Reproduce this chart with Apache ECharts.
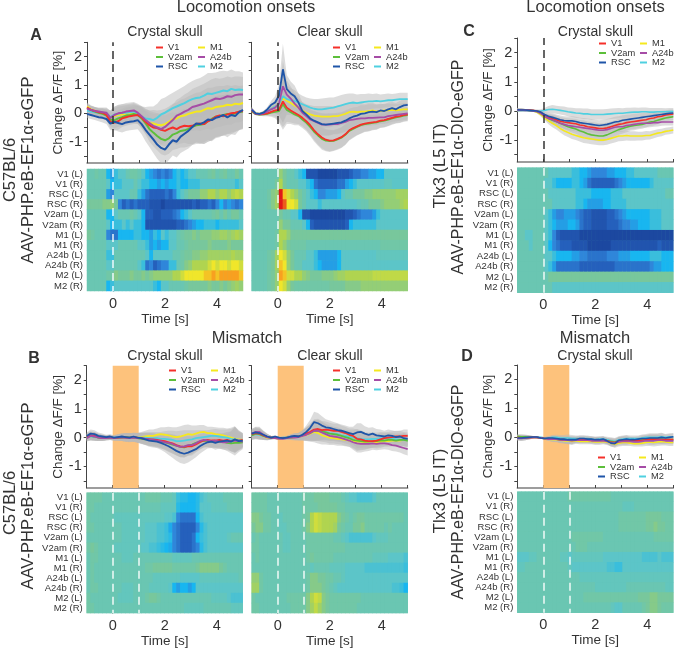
<!DOCTYPE html>
<html><head><meta charset="utf-8">
<style>html,body{margin:0;padding:0;background:#fff}#c{width:675px;height:649px}</style>
<script src="https://cdn.jsdelivr.net/npm/echarts@6/dist/echarts.min.js"></script>
</head><body><div id="c"></div>
<script>
// Time samples: -1 s to 5 s. Trace values are in hundredths of a percent, heat values on a -9..9 colour range.
const times=[-1,-0.85,-0.7,-0.55,-0.4,-0.25,-0.1,0.05,0.2,0.35,0.5,0.65,0.8,0.95,1.1,1.25,1.4,1.55,1.7,1.85,2,2.15,2.3,2.45,2.6,2.75,2.9,3.05,3.2,3.35,3.5,3.65,3.8,3.95,4.1,4.25,4.4,4.55,4.7,4.85,5];
const binLabels=['-1','-.85','-.7','-.55','-.4','-.25','-.1','.05','.2','.35','.5','.65','.8','.95','1.1','1.25','1.4','1.55','1.7','1.85','2','2.15','2.3','2.45','2.6','2.75','2.9','3.05','3.2','3.35','3.5','3.65','3.8','3.95','4.1','4.25','4.4','4.55','4.7','4.85'];
const rowLabels=['V1 (L)','V1 (R)','RSC (L)','RSC (R)','V2am (L)','V2am (R)','M1 (L)','M1 (R)','A24b (L)','A24b (R)','M2 (L)','M2 (R)'];
const areaNames=['M1','M2','V2am','V1','A24b','RSC'];
const areaColors={V1:'#f5302a',V2am:'#5cbf3a',RSC:'#1f55a8',M1:'#f5e81e',A24b:'#a64ca6',M2:'#4fd0e0'};
const heatColors=['#1c48a0','#2560bc','#2f86da','#18b6f0','#5cc5c8','#78c79c','#b0d450','#f0e62a','#f8a020','#e01818'];

const A1_V1=[20,12,8,4,2,-6,-30,-33,-28,-18,-14,-10,-8,-6,-14,-30,-42,-50,-52,-58,-62,-55,-50,-56,-48,-44,-46,-44,-38,-36,-38,-28,-22,-12,-8,-10,-4,0,2,6,8];
const A1_V2am=[18,12,6,2,-2,-8,-22,-25,-18,-14,-8,-6,-2,-6,-18,-35,-55,-68,-80,-90,-95,-88,-75,-70,-62,-60,-55,-48,-42,-40,-38,-28,-20,-12,-10,-6,-2,-6,0,4,6];
const A1_RSC=[-2,-6,-10,-14,-16,-20,-36,-30,-34,-38,-32,-30,-28,-24,-38,-58,-75,-92,-110,-122,-128,-110,-95,-100,-82,-72,-62,-48,-36,-38,-32,-22,-24,-16,-12,-6,-14,-6,-10,4,12];
const A1_M1=[24,14,8,4,0,-4,-14,-10,-6,-4,-2,0,2,-4,-12,-26,-34,-36,-40,-42,-38,-30,-20,-18,-10,-8,-2,2,6,6,12,18,16,22,24,26,30,28,34,32,36];
const A1_A24b=[16,12,8,6,4,2,-16,-6,0,2,6,8,10,2,-10,-24,-34,-44,-50,-56,-48,-36,-24,-8,-2,6,12,22,26,30,34,40,46,52,50,54,60,58,64,66,66];
const A1_M2=[10,6,4,2,2,0,-14,-4,-2,2,2,4,6,-2,-12,-18,-20,-24,-16,-4,2,10,18,24,30,36,44,50,54,56,62,70,68,72,76,80,78,86,82,84,82];
const A1_SEM=[14,14,14,14,16,18,24,28,30,30,30,30,30,32,36,40,44,48,50,54,54,54,54,56,58,60,62,64,66,68,70,72,74,72,72,70,70,68,66,64,62];

const A2_V1=[10,-2,-4,-3,0,5,10,12,42,20,10,2,-6,-16,-28,-42,-60,-74,-85,-93,-96,-95,-90,-84,-74,-60,-52,-46,-40,-36,-34,-32,-30,-26,-24,-20,-16,-12,-10,-6,-4];
const A2_V2am=[8,-3,-5,-4,-2,2,5,8,32,12,4,-4,-10,-22,-33,-48,-65,-78,-90,-96,-98,-97,-92,-86,-76,-62,-55,-48,-42,-38,-36,-34,-32,-28,-26,-22,-18,-14,-12,-8,-6];
const A2_RSC=[12,0,-2,2,14,30,38,62,155,85,70,60,38,8,-4,-18,-26,-32,-38,-40,-38,-36,-34,-32,-26,-18,-12,-8,-2,0,4,6,4,10,8,14,18,14,22,28,30];
const A2_M1=[12,0,-2,2,8,16,24,32,55,44,36,28,20,10,2,-4,-8,-10,-12,-12,-12,-10,-10,-6,-2,4,6,4,6,6,8,10,6,8,10,10,12,10,12,14,14];
const A2_A24b=[14,-1,-3,0,6,14,20,34,95,66,52,34,20,2,-10,-22,-28,-34,-40,-40,-40,-38,-38,-34,-30,-24,-22,-20,-18,-18,-16,-16,-15,-14,-14,-10,-8,-6,-4,-2,0];
const A2_M2=[14,-1,-3,2,8,16,24,32,60,50,46,44,38,32,26,20,16,14,14,16,18,20,24,28,32,36,38,36,38,40,42,42,44,42,44,46,46,48,50,50,50];
const A2_SEM=[8,4,4,6,8,14,22,40,90,50,42,38,32,30,30,32,34,36,38,38,38,36,36,36,36,34,32,30,30,28,28,26,26,24,24,24,22,22,22,22,22];

const C_V1=[4,4,3,3,2,0,-4,-14,-22,-26,-30,-35,-38,-40,-42,-44,-48,-50,-54,-56,-58,-60,-60,-58,-54,-50,-46,-44,-40,-38,-36,-34,-32,-30,-26,-24,-20,-18,-14,-12,-10];
const C_V2am=[4,4,3,2,1,-2,-8,-18,-26,-32,-36,-42,-48,-54,-58,-62,-68,-72,-78,-82,-84,-86,-86,-82,-76,-70,-64,-60,-56,-52,-50,-48,-46,-42,-38,-36,-32,-28,-24,-22,-20];
const C_RSC=[4,3,3,2,1,0,-4,-12,-18,-22,-26,-30,-33,-34,-34,-36,-40,-42,-44,-46,-48,-50,-48,-46,-42,-38,-36,-32,-30,-28,-26,-24,-22,-20,-18,-16,-14,-12,-10,-8,-7];
const C_M1=[3,3,3,2,0,-4,-12,-24,-34,-42,-50,-60,-68,-74,-80,-84,-88,-92,-94,-96,-98,-100,-100,-98,-94,-90,-86,-86,-84,-86,-86,-86,-86,-84,-84,-80,-76,-74,-70,-68,-65];
const C_A24b=[3,3,2,2,0,-2,-8,-18,-26,-30,-36,-42,-46,-50,-52,-54,-56,-58,-60,-62,-64,-66,-66,-64,-60,-56,-54,-54,-50,-48,-46,-44,-42,-42,-42,-40,-40,-38,-38,-38,-38];
const C_M2=[2,2,2,1,0,0,0,2,5,6,4,2,0,-3,-5,-7,-8,-10,-10,-12,-12,-12,-12,-11,-10,-9,-8,-8,-6,-5,-4,-4,-3,-3,-4,-4,-3,-3,-3,-2,-2];
const C_SEM=[5,5,4,3,3,4,6,8,12,14,14,14,15,15,16,16,17,18,18,18,18,18,18,18,18,18,18,17,17,16,16,15,15,15,14,14,13,13,12,12,12];

const B1_V1=[4,8,6,2,0,0,2,-2,0,2,0,0,2,0,-2,-4,-6,-6,-8,-10,-12,-16,-20,-26,-30,-32,-30,-30,-24,-16,-10,-8,-10,-10,-8,-10,-8,-12,-8,-10,-8];
const B1_V2am=[2,6,4,0,-2,-2,0,-2,-2,0,2,0,0,-2,-4,-6,-6,-10,-12,-14,-16,-20,-24,-28,-32,-34,-28,-24,-18,-14,-10,-12,-14,-12,-14,-14,-18,-20,-18,-18,-16];
const B1_RSC=[6,14,12,6,4,2,4,0,2,4,2,0,4,0,-2,-6,-10,-12,-14,-18,-24,-30,-38,-46,-52,-56,-52,-46,-40,-30,-22,-16,-14,-18,-14,-12,-10,-14,-6,-12,-10];
const B1_M1=[0,4,4,0,-2,0,0,-2,0,0,2,2,0,0,2,4,6,6,10,12,10,8,4,2,4,8,12,10,14,18,20,16,16,12,10,8,4,0,-4,-6,-8];
const B1_A24b=[-2,6,4,0,-2,-2,0,-2,0,0,0,-2,0,-2,-2,-4,-6,-8,-10,-12,-16,-18,-22,-28,-32,-30,-26,-26,-20,-12,-8,-10,-12,-10,-14,-16,-16,-12,-10,-12,-14];
const B1_M2=[0,4,2,0,0,0,0,0,2,0,0,2,0,0,0,0,-2,-2,-2,-4,-4,-6,-8,-12,-12,-10,-8,-6,-2,0,2,4,6,6,4,2,0,-4,-6,-8,-10];
const B1_SEM=[12,14,14,12,10,8,8,8,10,12,14,14,14,16,18,20,22,22,22,24,26,30,32,34,36,36,34,32,28,26,24,22,22,24,24,26,28,34,44,32,24];

const B2_V1=[12,16,14,8,2,0,0,-2,-2,0,2,4,4,8,14,20,28,30,26,28,26,24,24,20,16,10,6,-4,-6,-10,-12,-12,-10,-6,-2,0,2,4,4,6,6];
const B2_V2am=[8,14,12,6,2,0,0,-2,-2,0,0,2,4,8,12,16,24,24,22,18,14,12,10,6,2,-2,-8,-10,-12,-14,-14,-12,-12,-10,-10,-8,-8,-10,-8,-8,-10];
const B2_RSC=[14,18,16,10,4,0,4,0,-2,0,4,6,4,10,20,34,54,50,42,36,34,30,26,24,20,16,12,18,20,14,10,14,8,6,4,8,6,2,4,-2,-4];
const B2_M1=[10,14,12,6,0,0,-2,-4,-2,0,0,2,2,6,10,14,20,16,8,4,0,-2,-4,-6,-8,-10,-12,-14,-14,-16,-14,-14,-16,-14,-12,-12,-10,-10,-10,-8,-10];
const B2_A24b=[14,20,20,10,2,0,-2,-4,-4,-2,0,0,2,6,10,16,24,24,18,12,6,4,2,-2,-6,-10,-16,-20,-22,-22,-22,-20,-22,-20,-20,-22,-26,-28,-32,-36,-40];
const B2_M2=[8,12,10,6,2,0,0,-2,0,0,2,4,4,8,12,18,24,26,24,20,16,14,12,8,6,4,0,-2,-4,-6,-6,-4,-4,-2,-2,-4,-4,-6,-6,-8,-10];
const B2_SEM=[16,18,18,14,10,6,4,4,4,6,8,10,12,16,22,28,36,36,32,28,26,24,24,22,22,22,26,32,30,26,24,22,22,22,20,20,20,20,20,22,22];

const D_V1=[0,-2,-2,-1,0,0,-2,-4,-4,-6,-6,-8,-8,-10,-10,-8,-8,-8,-8,-10,-10,-10,-8,-12,-16,-18,-12,-10,-10,-10,-12,-12,-10,-8,-6,-6,-6,-8,-8,-8,-8];
const D_V2am=[4,2,2,1,1,0,-2,-4,-5,-6,-6,-8,-10,-10,-10,-8,-8,-8,-8,-8,-10,-10,-8,-12,-14,-16,-12,-10,-10,-10,-10,-10,-8,-6,-6,-6,-6,-6,-8,-8,-8];
const D_RSC=[-2,-2,-1,0,1,1,-2,-4,-2,-2,-4,-6,-6,-8,-8,-8,-4,-4,-6,-6,-8,-8,-6,-12,-20,-22,-10,-8,-6,-8,-8,-6,-4,-4,-2,-2,-2,0,-2,0,2];
const D_M1=[0,-2,-2,-1,0,0,-2,-4,-6,-8,-8,-10,-12,-12,-14,-12,-14,-14,-14,-14,-16,-16,-14,-16,-20,-24,-20,-18,-18,-20,-22,-22,-20,-18,-16,-18,-16,-14,-16,-18,-18];
const D_A24b=[-4,-4,-2,-1,0,0,-2,-4,-6,-6,-6,-8,-10,-10,-12,-10,-10,-10,-10,-12,-12,-12,-12,-14,-18,-20,-16,-14,-14,-14,-16,-16,-14,-12,-12,-12,-10,-10,-12,-12,-12];
const D_M2=[0,0,0,1,1,0,0,-2,-2,0,0,-2,-2,-2,-4,-4,-4,-4,-4,-6,-8,-6,-6,-8,-12,-14,-8,-6,-4,-4,-4,-4,-2,0,0,0,0,2,0,2,2];
const D_SEM=[8,9,8,6,4,2,3,4,6,8,9,10,10,12,12,10,10,10,10,10,10,10,10,10,12,12,12,12,12,10,10,10,12,12,14,14,14,14,12,12,12];

const heatA1=[
[0,0,.5,0,0,-3,-4,-2,-1,-1,0,.5,.5,0,-1,-3,-4,-5,-6,-5,-6,-5,-3,-2,-3,-2,-1,-1,0,0,0,.5,1,0,.5,1,0,0,1,0],
[0,0,0,0,0,-1,-3,-2,-2,-1,-1,-1,0,-1,-2,-2,-3,-3,-4,-3,-4,-3,-3,-2,-3,-3,-2,-2,-2,-1,-1,-1,-1,-1,-1,-1,-1,-1,-2,-1],
[0,0,0,0,0,-4,-5,-1,-1,-1,-1,0,0,-2,-4,-6,-7,-7,-7,-7,-6,-7,-5,-2,-1,0,1,1,1,2,2,3,3,2,3,3,2,3,3.5,3],
[1,1,1,1,1.5,1.5,2,1,-5,-7,-6,-7,-6,-7,-7,-7,-8,-8,-8,-9,-8,-8,-8,-8,-8,-8,-8,-7,-8,-7,-7,-6,-7,-5,-3,-5,-4,-5,-6,-5],
[0,0,0,0,0,-3,-3,-1,0,0,0,.5,0,-1,-3,-7,-7,-8,-8,-7,-7,-7,-6,-5,-3,-2,-1,0,0,0,0,0,.5,1,0,1,0,1,1,0],
[0,0,0,0,0,-1,-3,-2,-2,-1,-2,-1,-2,-2,-3,-8,-8,-8,-8,-8,-8,-8,-8,-7,-7,-6,-5,-4,-3,-3,-2,-2,-2,-3,-2,-2,-2,-2,-2,-1],
[1,.5,0,0,0,-5,-6,-6,-3,-3,-3,-3,-2,-2,-3,-3,-4,-2,-3,-1,-2,-1,-1,0,.5,1,1,1.5,1,1.5,1.5,1.5,2,2,2.5,2.5,2,2.5,3,2.5],
[0,0,0,0,0,-1,-1,-1,0,0,0,0,0,-1,-1,-2,-4,-3,-4,-3,-3,-1,-1,0,0,.5,1,1,1,1,1,1.5,1,1,1,1,1.5,1,1,1],
[0,0,0,0,0,-2,-2,0,0,0,0,0,0,0,0,-1,-3,-1,-1,-1,-1,-1,0,0,.5,1,1,1.5,1.5,2,2,2.5,2.5,2.5,2.5,2.5,2.5,3,2.5,2.5],
[0,0,0,0,0,-1,-1,0,0,0,0,0,0,-1,-2,-6,-5,-7,-6,-5,-5,-2,-2,0,.5,1.5,2,3,3,3,3,4,5,4,5,5,4,5,5,4],
[0,0,0,0,0,.5,.5,1.5,1,1,1,1.5,1,1,1.5,1,1.5,2,2,2,2,2,3,3,4,5,5,5,5,5,6,6,7,6,7,7,7,7,7,6],
[0,0,0,0,0,-3,-2,-1,-1,-1,-1,-1,-1,-1,-1,-1,-1,-2,-3,-1,-1,0,0,0,0,.5,1,1,1,1,1,1.5,1,1,1.5,1,1.5,2,2.5,2]];
const heatA2=[
[0,0,0,0,0,0,0,2,1,0,0,-1,-2,-3,-8,-8,-8,-9,-9,-9,-9,-9,-8,-8,-8,-7,-6,-6,-5,-5,-4,-4,-3,-3,-1,-1,-1,-1,-1,-1],
[0,0,0,0,0,0,1,3,1,0,0,0,-1,-1,-2,-3,-6,-7,-7,-7,-7,-7,-6,-6,-4,-3,-2,-1,-1,-1,-1,-1,-1,-1,-.5,-.5,-1,-1,-1,-1],
[0,0,0,0,.5,1.5,2,9,6,4,3,2,1,0,-1,-2,-3,-5,-5,-4,-4,-4,-3,-1,0,0,1,1,1,1.5,1.5,2,2,2,2,2,2,2.5,2.5,2.5],
[0,0,0,0,.5,1.5,2.5,9,8,5,5,4,1,0,-1,-1,-1,-2,-1,-1,-1,-1,-1,-1,-1,-1,-1,-.5,0,0,1,1,1,1.5,2,2,2,2,2.5,3],
[0,0,0,0,0,0,0,1,0,0,-1,-1,-3,-8,-8,-9,-9,-9,-9,-9,-9,-9,-9,-9,-8,-8,-7,-6,-5,-5,-5,-4,-2,-1,-1,-1,-1,-1,-1,-1],
[0,0,0,0,0,0,0,2,1,1,0,0,0,-1,-3,-7,-8,-8,-8,-8,-8,-8,-8,-8,-7,-3,-2,-2,-2,-2,-2,-2,-1,-1,-1,-1,-1,-1,-1,-1],
[0,0,0,0,0,0,.5,3,3,2,1,1,1,1,1,1,1,1,1,1,1,1,1,1,1,1,1,1,1,1,1,1,1,1,1,1,1,1,1,1],
[0,0,0,0,0,0,.5,3,2,1,.5,.5,.5,.5,0,0,0,0,0,0,0,0,0,0,0,0,0,0,0,0,0,0,0,.5,.5,.5,.5,.5,.5,.5],
[0,0,0,0,.5,1,2.5,5,4,2,1,0,0,0,-1,-1,-2,-4,-4,-4,-4,-4,-3,-1,-1,-1,-1,-1,-1,-1,-1,-1,-.5,-.5,-.5,-.5,-.5,-.5,-.5,-.5],
[0,0,0,0,.5,1,2.5,6,5,2,1,0,0,-1,-1,-1,-2,-3,-4,-4,-4,-4,-3,-1,-1,-1,-1,-1,-1,-1,-1,-1,-1,-1,-1,-1,-1,-1,-1,-1],
[0,0,0,0,.5,1,2,7,6,4,4,3,3,2,1.5,1,1,1,1.5,1.5,1.5,2,2.5,2.5,3,3,3,3,3,3,3,3.5,3.5,3.5,3.5,3.5,3.5,3.5,3.5,3.5],
[0,0,0,0,.5,1,2,5,4,2,1,.5,.5,.5,.5,.5,.5,.5,.5,.5,1,1,1,1,1.5,1.5,1.5,1.5,2,2,2,2,2,2,2,2,2,2,2,2]];
const heatC=[
[0,0,0,0,0,0,0,0,-1,-1,-1,-1,-1,-1,-2,-2,-3,-3,-4,-5,-5,-5,-5,-4,-4,-3,-3,-3,-2,-2,-1,-1,-1,-1,-1,-1,0,0,0,0],
[0,0,0,0,0,0,0,-1,-1,-2,-3,-3,-3,-3,-2,-2,-3,-4,-6,-7,-7,-7,-7,-7,-7,-6,-5,-4,-3,-3,-3,-3,-3,-3,-2,-1,-1,-1,-1,-1],
[0,0,0,0,0,0,0,0,-1,-1,-1,-1,-1,-1,-1,-2,-2,-2,-2,-3,-3,-3,-3,-3,-2,-2,-2,-1,-1,-1,-1,-1,-1,-1,-1,-1,-1,-1,0,0],
[0,0,0,0,0,0,0,0,0,-1,-1,-1,-1,-1,-1,-2,-2,-3,-4,-4,-4,-4,-3,-3,-2,-2,-2,-2,-1,-1,-1,-1,-1,-1,-1,-1,-1,-1,-1,-1],
[0,0,0,0,0,0,0,-1,-2,-4,-5,-5,-4,-4,-4,-5,-6,-7,-7,-8,-8,-8,-8,-7,-7,-6,-5,-4,-3,-3,-3,-3,-3,-3,-2,-2,-2,-1,-1,-1],
[0,0,0,0,0,0,0,-1,-2,-3,-4,-4,-4,-3,-3,-4,-6,-7,-7,-8,-8,-8,-8,-7,-7,-7,-6,-5,-5,-4,-4,-3,-3,-3,-2,-2,-2,-1,-1,-1],
[0,0,-1,-1,0,0,0,-1,-2,-5,-7,-8,-8,-8,-8,-8,-9,-9,-9,-9,-9,-9,-9,-9,-9,-9,-9,-9,-9,-9,-9,-9,-9,-9,-9,-9,-9,-9,-9,-9],
[0,0,0,-1,0,0,0,-1,-3,-5,-6,-7,-7,-7,-8,-8,-8,-8,-9,-9,-9,-9,-9,-9,-8,-8,-8,-8,-8,-8,-8,-8,-8,-8,-8,-8,-7,-8,-8,-8],
[0,0,0,0,0,0,0,-1,-1,-2,-3,-3,-3,-3,-4,-4,-5,-5,-6,-6,-6,-6,-6,-5,-5,-5,-4,-4,-4,-3,-3,-3,-3,-3,-2,-2,-2,-3,-3,-3],
[0,0,0,0,0,0,0,-1,-2,-4,-6,-6,-6,-6,-6,-6,-7,-7,-7,-7,-7,-7,-7,-7,-7,-6,-6,-6,-6,-6,-6,-6,-6,-6,-5,-4,-4,-3,-3,-3],
[0,0,0,0,0,0,0,0,1,1,1,1,1,1,1,1,1,1,1,1,1,1,1,1,1,1,1,1,1,1,1,1,1,1,1,1,1,1,1,1],
[0,0,0,0,0,0,0,0,0,-1,-1,-1,-1,-1,-1,-1,-1,-1,-1,-1,-1,-1,-1,-1,-1,-1,-1,-1,-1,-1,-1,-1,-1,-1,-1,-1,-1,-1,-1,-1]];
const heatB1=[
[.5,.5,.5,.5,0,0,0,0,0,0,0,0,0,0,0,.5,.5,.5,.5,0,0,0,-.5,-2,-2.5,-2.5,-3,-3,-2.5,-1.5,-1,-.5,-.5,-.5,-.5,0,0,0,0,0],
[.5,.5,0,0,0,0,0,0,0,0,0,0,0,0,0,0,0,0,0,-.5,-.5,-.5,-.5,-2.5,-3,-3,-3,-3,-2.5,-1,-1,-1,-.5,-.5,-.5,-.5,0,0,0,0],
[.5,0,0,0,0,0,0,-.5,-.5,-.5,-.5,-.5,-.5,-.5,-.5,-.5,-.5,-.5,-.5,-.5,-1,-1,-1.5,-5,-6,-6,-6,-6,-3,-1.5,-1,-1,-1,-1,-1,-1,-1,-1,-1,-1],
[.5,.5,0,0,0,0,0,0,0,-.5,-.5,-.5,-.5,-.5,-.5,-1,-1,-1,-1.5,-1.5,-2,-3.5,-5,-6,-7,-7,-7,-7,-5,-2.5,-1.5,-1,-1,-1,-1,-1,-1,-1,-1,-1],
[0,0,0,0,0,0,0,0,0,-.5,-.5,-.5,-.5,-.5,-.5,-1,-1,-1,-1.5,-1.5,-2,-2.5,-5,-6,-7,-7,-7,-6,-3,-2,-1.5,-1,-1,-1,-1,-1,-.5,0,0,0],
[.5,1,.5,0,0,0,0,-.5,-.5,-.5,-.5,-.5,-.5,-.5,-1,-1,-1.5,-1.5,-2,-2.5,-3,-3.5,-5,-6,-7,-7,-7,-6,-5,-2.5,-1.5,-1,-1,-1,-1,-1,-1,-1,-1,-1],
[0,.5,.5,0,0,0,0,0,0,-.5,-.5,-.5,0,0,0,0,0,0,0,0,0,0,-.5,-.5,-.5,-.5,-.5,0,0,0,0,0,0,0,0,0,0,0,0,0],
[0,.5,0,0,0,0,0,0,0,0,0,0,0,0,0,.5,.5,1,1,1,1,1,.5,.5,.5,.5,.5,.5,1,1.5,1.5,1.5,1.5,1.5,1,.5,0,0,0,0],
[0,.5,0,0,0,0,0,0,0,0,0,0,0,0,0,0,0,-.5,-.5,-.5,-.5,-.5,-.5,-.5,-1,-1,-1,-1,-1,-.5,-.5,-.5,-.5,-.5,-.5,-.5,-.5,-.5,-.5,0],
[0,.5,.5,0,0,0,0,0,0,-.5,-.5,-.5,0,0,0,0,-.5,-.5,-.5,-.5,-.5,-1,-3,-4,-3,-3,-4,-3,-1,-1,-1,-1,-1,-1,-1,-1,-1,-1,-1,-1],
[.5,0,0,0,0,0,0,0,-.5,-.5,-.5,-.5,0,0,0,.5,1,1,.5,0,0,0,0,0,0,0,0,0,0,0,0,0,-.5,-.5,-.5,-.5,-1,-1.5,-1.5,-1.5],
[.5,.5,0,0,0,0,0,0,0,0,0,0,0,0,0,0,0,0,0,0,0,0,0,0,0,-.5,-.5,-.5,-.5,-.5,0,0,0,0,0,0,0,-.5,-.5,-.5]];
const heatB2=[
[.5,.5,.5,.5,0,0,0,0,0,0,0,0,0,.5,.5,.5,1,1,1,1,.5,.5,.5,0,-.5,-1,-1,-1.5,-1.5,-1.5,-1.5,-1,0,0,0,0,0,0,0,0],
[.5,.5,.5,.5,0,0,0,0,0,0,0,0,0,.5,.5,.5,.5,1,1,1,1,1,.5,.5,0,0,0,0,0,0,0,0,0,0,0,0,0,0,0,0],
[1.5,1.5,1,.5,.5,0,0,-.5,0,0,0,0,0,.5,1,3,4,3.5,3,3,3,3,1.5,1,.5,0,.5,1,1,.5,.5,.5,.5,.5,.5,.5,.5,.5,.5,0],
[1,1.5,1.5,.5,.5,0,0,-.5,-.5,0,0,0,0,.5,1.5,3,4,3.5,3,3,3,2.5,1,.5,0,0,1,1,1.5,.5,.5,.5,.5,.5,0,.5,0,0,0,0],
[0,.5,0,0,0,0,0,0,-.5,-.5,0,0,0,0,.5,.5,.5,.5,.5,.5,.5,0,0,-.5,-1,-1.5,-1.5,-1.5,-1.5,-1.5,-1.5,-1,-.5,-.5,-.5,0,0,0,0,0],
[.5,.5,0,0,0,0,0,0,-.5,-.5,0,0,0,0,.5,.5,.5,.5,.5,.5,.5,.5,.5,.5,0,0,0,0,0,0,0,0,0,0,0,0,0,0,0,0],
[0,.5,0,0,0,0,0,0,0,0,0,0,0,0,.5,1,.5,.5,.5,.5,.5,0,0,0,0,0,0,0,0,0,0,-.5,-.5,-.5,-.5,-1,-1,-1,-1,-1.5],
[0,0,0,0,0,0,0,0,0,0,0,0,0,0,0,-.5,0,0,0,0,-.5,-.5,-.5,-.5,-1,-1,-1,-1,-1,-1.5,-1.5,-1.5,-1.5,-1.5,-1.5,-1.5,-1.5,-1.5,-1.5,-2],
[2,2,.5,0,0,0,0,0,0,0,0,0,0,0,.5,1.5,1.5,1,1,.5,.5,0,0,-.5,-1,-1,-1,-1,-1,-1,-1,-1,-1,-1,-1,-1,-1,-1,-1,-1],
[2.5,2.5,.5,0,0,0,0,0,0,0,0,0,0,0,.5,1.5,1.5,1.5,1,.5,0,-.5,-1,-1,-1,-1,-1,-1,-1,-1,-1,-1,-1,-1,-1,-1,-1.5,-1.5,-2,-3],
[.5,0,0,0,0,0,0,0,0,.5,.5,.5,.5,.5,1.5,3,4,3.5,1.5,1,.5,.5,.5,.5,.5,.5,.5,.5,0,0,0,0,0,0,0,0,0,0,0,0],
[.5,.5,0,0,0,0,0,0,0,0,.5,.5,.5,.5,1.5,2.5,3.5,2.5,1.5,1,.5,.5,.5,.5,.5,.5,.5,0,0,0,0,0,0,0,0,0,0,0,0,0]];
const heatD=[
[0,0,0,0,0,0,0,0,0,0,0,0,0,.5,.5,.5,.5,.5,.5,.5,.5,.5,.5,.5,0,0,0,0,0,0,0,0,0,0,0,0,0,0,0,0],
[0,0,0,0,0,0,0,0,0,0,0,0,0,0,0,0,0,0,0,0,0,0,0,0,0,0,0,-.5,-.5,-.5,0,0,0,0,0,0,0,0,0,0],
[0,0,0,0,0,0,0,0,0,0,0,0,0,0,0,0,0,0,0,0,0,0,0,0,0,0,.5,.5,.5,.5,.5,.5,.5,1,1,1,1,.5,.5,.5],
[0,0,0,0,0,0,0,0,0,0,0,0,0,0,0,0,0,0,0,0,0,0,0,0,0,0,.5,.5,.5,.5,.5,.5,.5,1,1,1.5,1,1,.5,.5],
[0,0,0,0,0,0,0,0,0,0,0,0,0,0,.5,.5,.5,.5,.5,.5,.5,.5,0,0,0,0,0,0,0,0,0,0,0,0,0,.5,.5,.5,.5,.5],
[0,0,0,0,0,0,0,0,0,0,0,0,0,0,0,.5,.5,.5,0,0,0,0,0,0,0,0,0,0,0,0,0,0,0,0,0,0,0,0,0,0],
[-1,-1,-1,-.5,-.5,0,0,0,0,0,0,-.5,-.5,-1,-.5,-.5,-.5,-.5,-.5,-.5,-.5,-.5,-1,-1,-1,-1,-1,-1,-1,-1,-1,-1,-1.5,-1.5,-1.5,-1.5,-1,-1.5,-1.5,-1.5],
[-.5,-.5,0,0,0,0,0,0,0,0,0,0,0,-.5,-1,-1,-1,-1,-1,-1,-1,-1,-1,-1.5,-1.5,-2,-2,-1,-1,-1,-1,-1,-1,-1,-1,-1,-1,-1,-1,-1],
[0,0,0,0,0,0,0,0,0,0,0,0,0,0,0,0,-.5,-.5,-.5,-.5,-.5,-.5,-.5,-.5,-.5,-.5,-.5,-.5,-.5,-.5,-.5,-.5,-.5,-.5,-.5,-.5,-.5,-.5,-.5,-.5],
[0,0,0,0,0,0,0,0,0,0,0,0,0,0,0,0,0,0,0,0,-.5,-.5,-.5,-.5,-.5,-.5,-.5,-.5,0,0,0,0,0,0,0,0,0,0,-.5,-.5],
[0,0,0,0,0,0,0,0,0,0,0,0,0,0,0,0,0,.5,.5,.5,.5,.5,.5,.5,.5,.5,.5,.5,.5,.5,.5,1,1,1,1.5,1.5,1,1,1,1],
[0,0,0,0,0,0,0,0,0,0,0,0,0,0,0,0,0,0,0,0,0,0,0,0,-.5,-1,-1,0,0,0,0,0,.5,1,1.5,1.5,1,.5,.5,.5]];

const W=156, FONT='"Liberation Sans",Arial,sans-serif', INK='#333';
const panels=[
 {traces:{V1:A1_V1,V2am:A1_V2am,RSC:A1_RSC,M1:A1_M1,A24b:A1_A24b,M2:A1_M2},sem:A1_SEM,heat:heatA1,x:87,lt:42.3,lb:163,ht:169,hb:291,lg:[156,198,43],stim:false,ylab:true,lw:2},
 {traces:{V1:A2_V1,V2am:A2_V2am,RSC:A2_RSC,M1:A2_M1,A24b:A2_A24b,M2:A2_M2},sem:A2_SEM,heat:heatA2,x:251.7,lt:42.3,lb:163,ht:169,hb:291,lg:[333,374,43],stim:false,ylab:false,lw:1.8},
 {traces:{V1:C_V1,V2am:C_V2am,RSC:C_RSC,M1:C_M1,A24b:C_A24b,M2:C_M2},sem:C_SEM,heat:heatC,x:517.3,lt:38,lb:162,ht:167.7,hb:292.7,lg:[599,640,39],stim:false,ylab:true,lw:1.6},
 {traces:{V1:B1_V1,V2am:B1_V2am,RSC:B1_RSC,M1:B1_M1,A24b:B1_A24b,M2:B1_M2},sem:B1_SEM,heat:heatB1,x:86.7,lt:365.7,lb:488,ht:492.7,hb:614.3,lg:[169,211,366],stim:true,ylab:true,lw:1.8},
 {traces:{V1:B2_V1,V2am:B2_V2am,RSC:B2_RSC,M1:B2_M1,A24b:B2_A24b,M2:B2_M2},sem:B2_SEM,heat:heatB2,x:251.7,lt:365.7,lb:488,ht:492.7,hb:614.3,lg:[333,374,366],stim:true,ylab:false,lw:1.8},
 {traces:{V1:D_V1,V2am:D_V2am,RSC:D_RSC,M1:D_M1,A24b:D_A24b,M2:D_M2},sem:D_SEM,heat:heatD,x:517.3,lt:365,lb:488,ht:491.7,hb:612.7,lg:[598,639,453],stim:true,ylab:true,lw:1.6}
];

const grid=[],xAxis=[],yAxis=[],series=[],legend=[],heatIdx=[];
const legendText={fontFamily:FONT,fontSize:9.3,color:INK};
panels.forEach(p=>{
  // trace grid
  const g=grid.length;
  grid.push({left:p.x,top:p.lt,width:W,height:p.lb-p.lt});
  const xi=xAxis.length, yi=yAxis.length;
  xAxis.push({gridIndex:g,type:'value',min:-1,max:5,interval:1,axisLine:{onZero:false,lineStyle:{color:'#7d7d7d',width:1.5}},axisTick:{inside:true,length:3,lineStyle:{color:'#444'}},axisLabel:{show:false},splitLine:{show:false}});
  yAxis.push({gridIndex:g,type:'value',min:-1.75,max:2.5,
    name:p.ylab?'Change \u0394F/F [%]':'',nameLocation:'middle',nameGap:19,nameTextStyle:{fontFamily:FONT,fontSize:13.5,color:INK},
    axisLine:{onZero:false,lineStyle:{color:'#444'}},axisTick:{length:3,customValues:[-1.5,-1,-0.5,0,0.5,1,1.5,2,2.5],lineStyle:{color:'#444'}},
    axisLabel:{show:p.ylab,customValues:[-1,0,1,2],fontFamily:FONT,fontSize:14.5,color:INK,margin:5},splitLine:{show:false}});
  // stimulus window or onset marker
  const marker={type:'line',name:'onset',xAxisIndex:xi,yAxisIndex:yi,data:[[0,0]],showSymbol:false,silent:true,z:1,lineStyle:{width:0}};
  if(p.stim){marker.markArea={silent:true,z:1,itemStyle:{color:'#fdc27c',opacity:1},data:[[{xAxis:0},{xAxis:1}]]};}
  series.push(marker);
  // grey error bands, one per brain area
  areaNames.forEach(a=>{
    const v=p.traces[a];
    series.push({type:'custom',name:'sem '+a,xAxisIndex:xi,yAxisIndex:yi,z:2,silent:true,clip:true,
      data:times.map((t,i)=>[t,v[i]/100]),
      encode:{x:0,y:1},
      renderItem:(params,api)=>{
        if(params.dataIndex!==0) return null;
        const up=times.map((t,i)=>api.coord([t,(v[i]+p.sem[i])/100]));
        const dn=times.map((t,i)=>api.coord([t,(v[i]-p.sem[i])/100])).reverse();
        return {type:'polygon',shape:{points:up.concat(dn)},style:{fill:'rgba(185,185,185,0.5)'}};
      }});
  });
  // mean traces
  areaNames.forEach(a=>{
    series.push({type:'line',name:a,xAxisIndex:xi,yAxisIndex:yi,z:3,showSymbol:false,silent:true,
      data:times.map((t,i)=>[t,p.traces[a][i]/100]),
      lineStyle:{color:areaColors[a],width:p.lw},itemStyle:{color:areaColors[a]}});
  });
  if(!p.stim){
    series.push({type:'line',name:'zero',xAxisIndex:xi,yAxisIndex:yi,z:4,silent:true,showSymbol:false,data:[[0,0]],lineStyle:{width:0},
      markLine:{silent:true,symbol:'none',label:{show:false},animation:false,lineStyle:{color:'#333',type:[8,5],width:1.5},data:[{xAxis:0}]}});
  }
  const lgCommon={orient:'vertical',icon:'rect',itemWidth:7,itemHeight:2,itemGap:0.5,selectedMode:false,textStyle:legendText,padding:0};
  legend.push(Object.assign({left:p.lg[0],top:p.lg[2],data:['V1','V2am','RSC']},lgCommon));
  legend.push(Object.assign({left:p.lg[1],top:p.lg[2],data:['M1','A24b','M2']},lgCommon));

  // heat grid; the backing colour hides hairline seams between neighbouring cells
  const h=grid.length;
  grid.push({left:p.x,top:p.ht,width:W,height:p.hb-p.ht,show:true,backgroundColor:'#6ac6b2',borderWidth:0});
  const xc=xAxis.length;
  xAxis.push({gridIndex:h,type:'category',data:binLabels,show:false});
  const xv=xAxis.length;
  xAxis.push({gridIndex:h,type:'value',min:-1,max:5,interval:1,position:'bottom',
    name:'Time [s]',nameLocation:'middle',nameGap:19,nameTextStyle:{fontFamily:FONT,fontSize:13.5,color:INK},
    axisLine:{onZero:false,lineStyle:{color:'#666'}},axisTick:{length:3,lineStyle:{color:'#444'}},
    axisLabel:{customValues:[0,2,4],fontFamily:FONT,fontSize:14.5,color:INK,margin:5},splitLine:{show:false}});
  const yc=yAxis.length;
  yAxis.push({gridIndex:h,type:'category',data:rowLabels,inverse:true,
    axisLine:{lineStyle:{color:'#666'}},axisTick:{length:2,alignWithLabel:true,lineStyle:{color:'#444'}},
    axisLabel:{show:true,fontFamily:FONT,fontSize:9.5,color:INK,margin:4,interval:0,formatter:v=>p.ylab?v:''},splitLine:{show:false}});
  heatIdx.push(series.length);
  const cells=[];
  p.heat.forEach((row,r)=>row.forEach((v,c)=>cells.push([c,r,v])));
  series.push({type:'heatmap',name:'heat',xAxisIndex:xc,yAxisIndex:yc,data:cells,z:2,silent:true,progressive:0});
  series.push({type:'line',name:'onset lines',xAxisIndex:xv,yAxisIndex:yc,z:5,silent:true,showSymbol:false,data:[[0,rowLabels[0]]],lineStyle:{width:0},
    markLine:{silent:true,symbol:'none',label:{show:false},animation:false,lineStyle:{color:'#fff',type:[8,5],width:1.5,opacity:.9},data:p.stim?[{xAxis:0},{xAxis:1}]:[{xAxis:0}]}});
});

const tx=(text,x,y,size,opt)=>Object.assign({type:'text',x,y,silent:true,style:{text,fill:INK,font:((opt&&opt.bold)?'bold ':'')+size+'px '+FONT,textAlign:'center',textVerticalAlign:'middle'}},(opt&&opt.rot)?{rotation:Math.PI/2}:{});
const graphic=[
 tx('Locomotion onsets',246,7,16.5),tx('Locomotion onsets',595.5,7,16.5),
 tx('Mismatch',247,338,16.5),tx('Mismatch',595,338,16.5),
 tx('Crystal skull',165,32,14),tx('Clear skull',330,32,14),tx('Crystal skull',595.5,32,14),
 tx('Crystal skull',165,356,14),tx('Clear skull',330,356,14),tx('Crystal skull',595,356,14),
 tx('A',36,36,16,{bold:true}),tx('B',34,359,16,{bold:true}),tx('C',469,32,16,{bold:true}),tx('D',467,357,16,{bold:true}),
 tx('C57BL/6',10,170,16.5,{rot:true}),tx('AAV-PHP.eB-EF1\u03b1-eGFP',28,170,16.5,{rot:true}),
 tx('C57BL/6',10,503,16.5,{rot:true}),tx('AAV-PHP.eB-EF1\u03b1-eGFP',28,496,16.5,{rot:true}),
 tx('Tlx3 (L5 IT)',440,166,16.5,{rot:true}),tx('AAV-PHP.eB-EF1\u03b1-DIO-eGFP',459,167,16,{rot:true}),
 tx('Tlx3 (L5 IT)',440,491,16.5,{rot:true}),tx('AAV-PHP.eB-EF1\u03b1-DIO-eGFP',459,492,16,{rot:true})
];

const chart=echarts.init(document.getElementById('c'),null,{renderer:'canvas'});
chart.setOption({animation:false,backgroundColor:'#fff',textStyle:{fontFamily:FONT},
  grid,xAxis,yAxis,series,legend,graphic,
  visualMap:{show:false,type:'continuous',min:-9,max:9,seriesIndex:heatIdx,inRange:{color:heatColors},calculable:false}
});
</script></body></html>
